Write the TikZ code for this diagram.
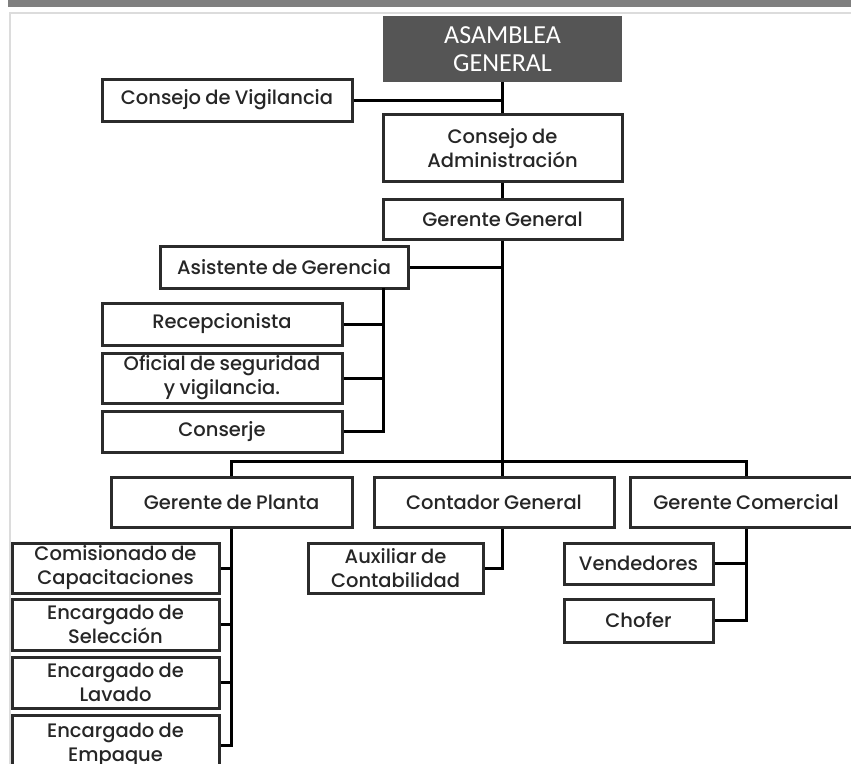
\documentclass[tikz,border=0pt]{standalone}
\usepackage{fontspec}
\IfFontExistsTF{Poppins Medium}
  {\setmainfont{Poppins Medium}}
  {\setmainfont{Poppins}}
\newfontfamily\titlefont{Carlito}
\newcommand\unitfont{\fontsize{19.5}{24}\selectfont
  \spaceskip=0.22em plus 0.05em minus 0.05em\relax}
\definecolor{boxline}{HTML}{2B2B2B}
\definecolor{boxtext}{HTML}{262626}
\definecolor{headfill}{HTML}{555555}
\definecolor{barfill}{HTML}{7F7F7F}
\definecolor{framegray}{HTML}{DCDCDC}
\tikzset{
  unit/.style={draw=boxline, line width=3pt, fill=white, text=boxtext,
    align=center, inner sep=0pt, font=\unitfont},
  headbox/.style={fill=headfill, text=white, align=center, inner sep=0pt,
    font=\titlefont\fontsize{26}{28}\selectfont},
  link/.style={draw=black, line width=3pt, line join=miter}
}
\begin{document}
\begin{tikzpicture}[x=1pt, y=-1pt]
\useasboundingbox (0,0) rectangle (851,763);
\clip (0,0) rectangle (851,763);

% sheet decoration
\fill[barfill] (8,0) rectangle (851,7);
\draw[framegray, line width=2pt] (10,900) -- (10,13) -- (900,13);

% top levels
\node[headbox, minimum width=239pt, minimum height=66pt] (asamblea) at (502.5,49) {ASAMBLEA\\GENERAL};
\node[unit, minimum width=250pt, minimum height=42pt] (vigilancia) at (227,100) {Consejo de Vigilancia};
\node[unit, minimum width=239pt, minimum height=67pt] (admin) at (502.5,148) {Consejo de\\Administración};
\node[unit, minimum width=239pt, minimum height=40pt] (gerente) at (502.5,219) {Gerente General};

% staff units
\node[unit, minimum width=248pt, minimum height=42pt] (asistente) at (284,267) {Asistente de Gerencia};
\node[unit, minimum width=240pt, minimum height=42pt] (recep) at (222,324) {Recepcionista};
\node[unit, minimum width=240pt, minimum height=50pt] (oficial) at (222,378) {Oficial de seguridad\\y vigilancia.};
\node[unit, minimum width=240pt, minimum height=41pt] (conserje) at (222,431.5) {Conserje};

% departments
\node[unit, minimum width=241pt, minimum height=50pt] (planta) at (231.5,502) {Gerente de Planta};
\node[unit, minimum width=240pt, minimum height=50pt] (contador) at (494,502) {Contador General};
\node[unit, minimum width=232pt, minimum height=50pt] (comercial) at (746,502) {Gerente Comercial};

% plant staff
\node[unit, minimum width=207pt, minimum height=50pt] (comisionado) at (115.5,568) {Comisionado de\\Capacitaciones};
\node[unit, minimum width=207pt, minimum height=51pt] (seleccion) at (115.5,624.5) {Encargado de\\Selección};
\node[unit, minimum width=207pt, minimum height=51pt] (lavado) at (115.5,682.5) {Encargado de\\Lavado};
\node[unit, minimum width=207pt, minimum height=60pt] (empaque) at (115.5,745) {Encargado de\\Empaque};

% accounting and sales staff
\node[unit, minimum width=175pt, minimum height=50pt] (auxiliar) at (395.5,568) {Auxiliar de\\Contabilidad};
\node[unit, minimum width=149pt, minimum height=41pt] (vendedores) at (638.5,563.5) {Vendedores};
\node[unit, minimum width=149pt, minimum height=43pt] (chofer) at (638.5,620.5) {Chofer};

% connectors
\coordinate (bus) at (0,461);
\coordinate (staffjoint) at (383,288);

\draw[link] (asamblea.south) -- (admin.north);
\draw[link] (vigilancia.east) -- (vigilancia.east -| asamblea.south);
\draw[link] (admin.south) -- (gerente.north);
\draw[link] (gerente.south) -- (gerente.south |- contador.north);
\draw[link] (asistente.east) -- (asistente.east -| gerente.south);

\draw[link] (staffjoint) |- (conserje.east);
\draw[link] (recep.east) -- (recep.east -| staffjoint);
\draw[link] (oficial.east) -- (oficial.east -| staffjoint);

\draw[link] (planta.north) -- (planta.north |- bus) -- (comercial.north |- bus) -- (comercial.north);

\draw[link] (planta.south) |- (empaque.east);
\draw[link] (comisionado.east) -- (comisionado.east -| planta.south);
\draw[link] (seleccion.east) -- (seleccion.east -| planta.south);
\draw[link] (lavado.east) -- (lavado.east -| planta.south);

\draw[link] (gerente.south |- contador.south) |- (auxiliar.east);

\draw[link] (comercial.south) |- (chofer.east);
\draw[link] (vendedores.east) -- (vendedores.east -| comercial.south);
\end{tikzpicture}
\end{document}
